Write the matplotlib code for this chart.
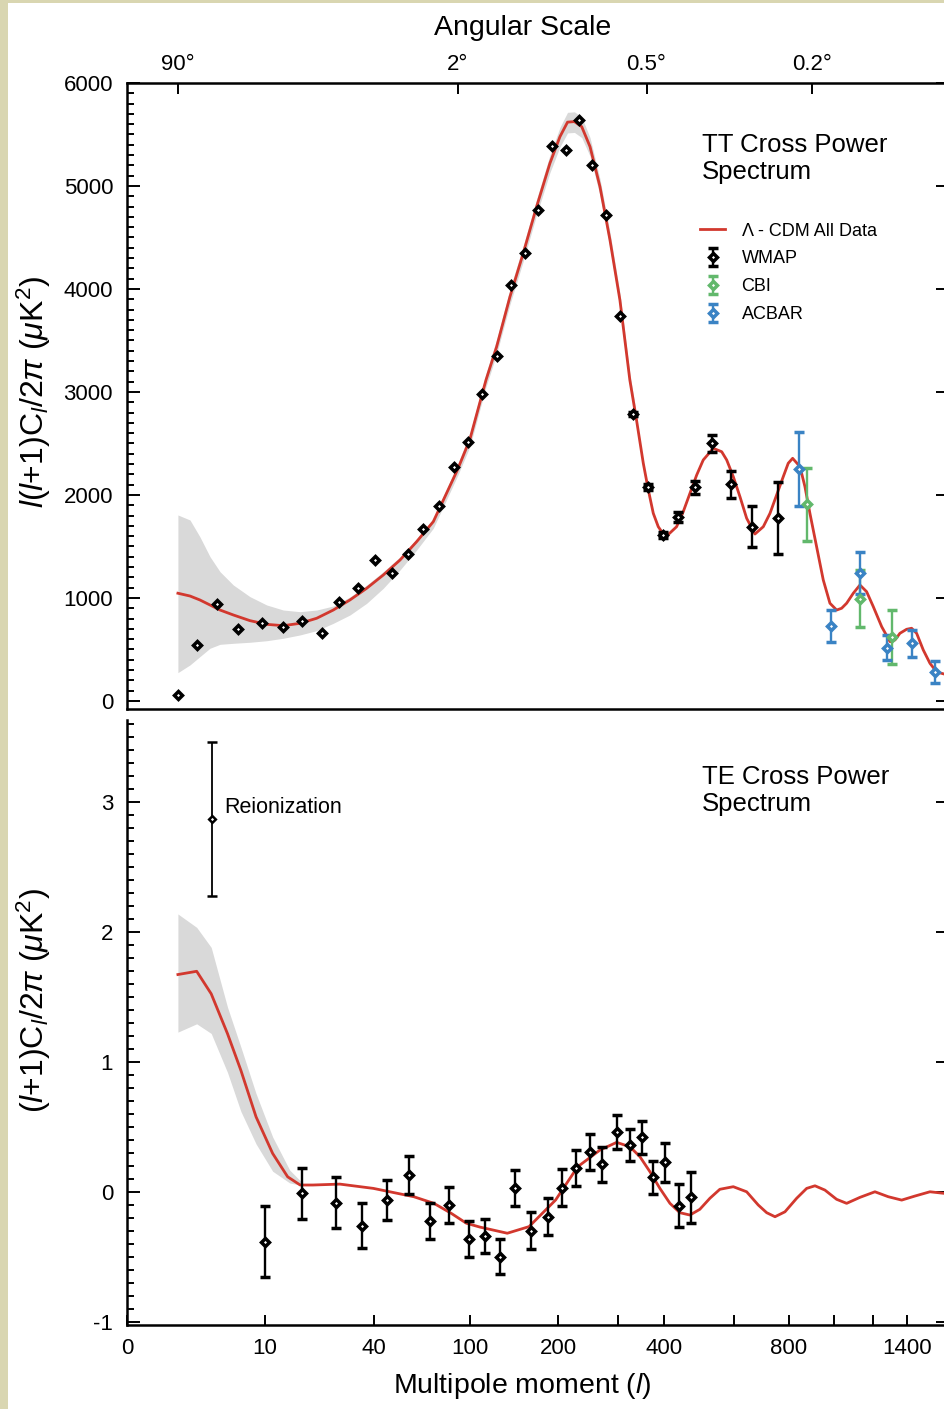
"""WMAP TT / TE cross power spectrum, two stacked panels on an l^(1/4) axis."""
import numpy as np
import matplotlib
matplotlib.use("Agg")
import matplotlib.pyplot as plt
from matplotlib.patches import Rectangle
from matplotlib.ticker import MultipleLocator, NullLocator, FixedLocator

OUT = "out.png"
NA = np.nan   # no visible error bar

# ---------------- TT panel ----------------
TT_WMAP_L = [2, 3, 4.5, 6.5, 9.5, 13, 17, 22, 27, 33.4, 40.4, 48.4, 56.9, 65.4,
             76.3, 87.1, 98.4, 110.7, 124.9, 140, 155.7, 172.2, 190.9, 210.6,
             230.7, 253.3, 278.1, 304.2, 331.3, 363.9, 397.4, 436.3, 481, 530,
             589, 661, 755]
TT_WMAP_V = [60, 545, 945, 696, 760, 721, 780, 657, 964, 1100, 1369, 1240, 1424,
             1670, 1896, 2272, 2515, 2981, 3350, 4042, 4350, 4770, 5391, 5350,
             5638, 5204, 4716, 3741, 2783, 2075, 1612, 1789, 2075, 2502, 2104,
             1692, 1780]
TT_WMAP_E = [NA, NA, NA, NA, NA, NA, NA, NA, NA, NA, NA, NA, NA, NA,
             NA, NA, NA, NA, NA, NA, NA, NA, NA, NA, NA, NA, NA, NA,
             20, 30, 30, 50, 65, 85, 130, 200, 350]

TT_CBI_L = [877, 1128, 1307]
TT_CBI_V = [1910, 993, 618]
TT_CBI_E = [355, 275, 263]

TT_ACBAR_L = [841, 986, 1130, 1277, 1428, 1580]
TT_ACBAR_V = [2250, 728, 1246, 517, 560, 279]
TT_ACBAR_E = [360, 155, 205, 123, 133, 108]

TT_MODEL_L = [2, 2.61, 3.2, 3.91, 4.72, 5.98, 7.89, 10.25, 13.07, 16.46,
              20.47, 25.14, 30.6, 36.9, 44.1, 52.4, 61.7, 72.2, 90, 100,
              114.5, 124.9, 138.9, 154, 170.4, 188, 202.2, 213.4, 224, 235.6,
              249.4, 266.7, 285, 304.1, 324.1, 338.4, 352.8, 364, 375.3, 386.9,
              398.9, 405.4, 432, 449.3, 467.2, 485.8, 504.4, 533.9, 559.6, 575.3,
              596.5, 618.6, 641.3, 670.4, 700.6, 725.6, 751, 777.1, 797, 815,
              845.8, 866.9, 888.6, 918.4, 948.8, 980, 1012, 1036.5, 1061.5,
              1095.3, 1130, 1165.6, 1201.9, 1249, 1296.8, 1325.9, 1355.7,
              1396.5, 1427.7, 1459.5, 1502.4, 1546.4, 1591.4, 1642.2, 1670]
TT_MODEL_V = [1046, 1019, 981, 932, 883, 835, 780, 744, 731, 754,
              803, 883, 981, 1094, 1223, 1369, 1547, 1741, 2250, 2540,
              3117, 3440, 3925, 4347, 4799, 5220, 5479, 5620, 5625, 5576,
              5382, 4993, 4476, 3893, 3117, 2720, 2308, 2049, 1822, 1692,
              1621, 1595, 1692, 1838, 2016, 2194, 2340, 2453, 2420, 2340,
              2178, 1983, 1774, 1621, 1692, 1822, 2000, 2178, 2308, 2356,
              2275, 2081, 1822, 1498, 1175, 949, 883, 900, 949,
              1046, 1126, 1061, 916, 721, 576, 592, 657,
              696, 706, 657, 495, 366, 282, 262, 255]

# cosmic-variance band, sampled at the first 36 model multipoles
TT_BAND_L = TT_MODEL_L[:36]
TT_BAND_HI = [1806, 1757, 1595, 1401, 1255, 1126, 1013, 932, 883, 867,
              883, 922, 1010, 1125, 1255, 1400, 1575, 1770, 2300, 2600,
              3180, 3510, 4000, 4420, 4870, 5300, 5570, 5715, 5720, 5670,
              5470, 5070, 4550, 3960, 3180, 2780]
TT_BAND_LO = [275, 350, 430, 512, 550, 560, 570, 585, 609, 641,
              683, 754, 835, 948, 1094, 1272, 1466, 1677, 2190, 2470,
              3050, 3370, 3850, 4270, 4720, 5130, 5380, 5515, 5520, 5470,
              5290, 4910, 4400, 3820, 3050, 2670]

# ---------------- TE panel ----------------
TE_WMAP_L = [10.0, 17.0, 26.1, 35.1, 45.8, 57.2, 70.2, 83.6, 99.0, 113.4, 128.5,
             144.6, 163.6, 185, 205.4, 226.4, 249, 270, 298, 323.5, 349, 375,
             402, 437, 469]
TE_WMAP_V = [-0.381, -0.010, -0.082, -0.259, -0.061, 0.130, -0.223, -0.102,
             -0.363, -0.338, -0.496, 0.028, -0.297, -0.190, 0.033, 0.187, 0.309,
             0.215, 0.463, 0.361, 0.420, 0.113, 0.228, -0.105, -0.041]
TE_WMAP_E = [0.27, 0.196, 0.196, 0.173, 0.156, 0.147, 0.141, 0.138, 0.138, 0.134,
             0.137, 0.138, 0.14, 0.143, 0.143, 0.138, 0.141, 0.134, 0.130, 0.122,
             0.124, 0.128, 0.147, 0.166, 0.194]

REION_L, REION_V, REION_E = 4.04, 2.873, 0.592

TE_MODEL_L = [2, 3, 4, 5.4, 6.8, 8.7, 11.2, 13.9, 16.5, 19.5,
              27.2, 39.7, 47.2, 60, 72.6, 85, 97, 109, 136, 161,
              196, 229, 266.7, 297.7, 324.4, 345.4, 367.7, 390.8, 415.2, 440.5,
              467.1, 494.6, 523.8, 553.8, 596.5, 641.3, 682.3, 713.2, 744.7,
              783.9, 831.7, 874.4, 911, 956.5, 1011.9, 1061.5, 1130, 1211,
              1286.6, 1366.4, 1448.3, 1546.4, 1642, 1670]
TE_MODEL_V = [1.673, 1.698, 1.525, 1.218, 0.936, 0.578, 0.297, 0.117, 0.054,
              0.054, 0.061, 0.028, 0.002, -0.036, -0.087, -0.164, -0.24, -0.27,
              -0.317, -0.266, -0.061, 0.194, 0.323, 0.382, 0.348, 0.272, 0.156,
              0.028, -0.087, -0.159, -0.177, -0.133, -0.048, 0.021, 0.041,
              0.002, -0.100, -0.159, -0.190, -0.152, -0.048, 0.028, 0.048,
              0.015, -0.056, -0.087, -0.041, 0.002, -0.036, -0.062, -0.031,
              0.002, -0.010, -0.010]

TE_BAND_L = [2, 3, 4, 5.4, 6.8, 8.7, 11.2, 14.3, 17]
TE_BAND_HI = [2.139, 2.036, 1.882, 1.422, 1.115, 0.757, 0.424, 0.169, 0.07]
TE_BAND_LO = [1.230, 1.294, 1.22, 0.92, 0.62, 0.37, 0.16, 0.07, 0.05]

# ---------------- axes ----------------
L_LIM = (0.51, 1670)
L_TICKS = [0.51, 10, 40, 100, 200, 400, 800, 1400]
L_TICKLABELS = ["0", "10", "40", "100", "200", "400", "800", "1400"]
L_MINOR = [300, 600, 1000, 1200]
ANGLES = [90, 2, 0.5, 0.2]
ANGLE_LABELS = ["90°", "2°", "0.5°", "0.2°"]

RED = "#d2382e"
BAND = "#d9d9d9"
GREEN = "#62b86c"
BLUE = "#3a83c4"
BEIGE = "#d9d6b1"

TICK_FS = 16


def fwd(l):
    l = np.asarray(l, dtype=float)
    return np.sign(l) * np.abs(l) ** 0.25


def inv(u):
    u = np.asarray(u, dtype=float)
    return np.sign(u) * np.abs(u) ** 4


def points(ax, l, v, e, color):
    return ax.errorbar(l, v, yerr=e, fmt="D", ms=4.2, mfc="white", mec=color,
                       mew=2.5, color=color, ecolor=color, elinewidth=1.7,
                       capsize=3.6, capthick=1.4, zorder=4)


def style_axes(ax):
    ax.set_xscale("function", functions=(fwd, inv))
    ax.set_xlim(*L_LIM)
    for s in ax.spines.values():
        s.set_linewidth(1.8)
    ax.tick_params(which="both", direction="in", width=1.4, labelsize=TICK_FS,
                   colors="black")
    ax.tick_params(axis="y", which="major", left=True, right=True, length=9,
                   pad=10)
    ax.tick_params(axis="y", which="minor", left=True, right=False, length=5)


def main():
    plt.rcParams["font.family"] = ["Liberation Sans", "DejaVu Sans"]
    plt.rcParams["mathtext.fontset"] = "custom"
    plt.rcParams["mathtext.rm"] = "Liberation Sans"
    plt.rcParams["mathtext.it"] = "Liberation Sans:italic"
    plt.rcParams["mathtext.bf"] = "Liberation Sans:bold"
    plt.rcParams["axes.unicode_minus"] = False

    fig = plt.figure(figsize=(9.44, 14.09), dpi=100, facecolor=BEIGE)
    fig.patches.append(Rectangle((8 / 944, 0), 1, 1 - 3 / 1409,
                                 transform=fig.transFigure, facecolor="white",
                                 edgecolor="none", zorder=-1))

    ax1 = fig.add_axes([0.1345, 0.4968, 0.8697, 0.4443])
    ax2 = fig.add_axes([0.1345, 0.0596, 0.8697, 0.4294])

    # ---- TT ----
    style_axes(ax1)
    ax1.set_ylim(-78, 6000)
    ax1.yaxis.set_major_locator(MultipleLocator(1000))
    ax1.yaxis.set_minor_locator(MultipleLocator(100))
    ax1.fill_between(TT_BAND_L, TT_BAND_LO, TT_BAND_HI, color=BAND, lw=0,
                     zorder=1)
    model, = ax1.plot(TT_MODEL_L, TT_MODEL_V, color=RED, lw=2.0, zorder=3)
    h_w = points(ax1, TT_WMAP_L, TT_WMAP_V, TT_WMAP_E, "black")
    h_c = points(ax1, TT_CBI_L, TT_CBI_V, TT_CBI_E, GREEN)
    h_a = points(ax1, TT_ACBAR_L, TT_ACBAR_V, TT_ACBAR_E, BLUE)

    ax1.xaxis.set_major_locator(FixedLocator([180 / a for a in ANGLES]))
    ax1.xaxis.set_minor_locator(NullLocator())
    ax1.set_xticklabels(ANGLE_LABELS)
    ax1.tick_params(axis="x", bottom=False, top=True, labelbottom=False,
                    labeltop=True, length=8, pad=6)
    ax1.set_xlabel("Angular Scale", fontsize=20.5)
    ax1.xaxis.set_label_position("top")
    ax1.xaxis.set_label_coords(0.482, 1.077)
    ax1.set_ylabel(r"$l(l$+1)C$_l$/2$\pi$ ($\mu$K$^2$)", fontsize=23)
    ax1.yaxis.set_label_coords(-0.090, 0.506)

    ax1.text(0.700, 0.920, "TT Cross Power\nSpectrum", transform=ax1.transAxes,
             ha="left", va="top", fontsize=18.5, linespacing=1.15)
    ax1.legend([model, h_w, h_c, h_a],
               ["Λ - CDM All Data", "WMAP", "CBI", "ACBAR"],
               loc="upper left", bbox_to_anchor=(0.698, 0.777), frameon=False,
               fontsize=13, handlelength=1.4, handletextpad=0.9,
               labelspacing=0.6, borderaxespad=0, borderpad=0)

    # ---- TE ----
    style_axes(ax2)
    ax2.spines["top"].set_visible(False)
    ax2.set_ylim(-1.023, 3.631)
    ax2.yaxis.set_major_locator(MultipleLocator(1))
    ax2.yaxis.set_minor_locator(MultipleLocator(0.1))
    ax2.fill_between(TE_BAND_L, TE_BAND_LO, TE_BAND_HI, color=BAND, lw=0,
                     zorder=1)
    ax2.plot(TE_MODEL_L, TE_MODEL_V, color=RED, lw=2.0, zorder=3)
    points(ax2, TE_WMAP_L, TE_WMAP_V, TE_WMAP_E, "black")
    ax2.errorbar([REION_L], [REION_V], yerr=[REION_E], fmt="D", ms=3.4,
                 mfc="white", mec="black", mew=1.8, color="black",
                 elinewidth=1.3, capsize=3.6, capthick=1.0, zorder=4)
    ax2.annotate("Reionization", xy=(REION_L, REION_V), xytext=(9, 8),
                 textcoords="offset points", ha="left", va="center",
                 fontsize=15.5)

    ax2.xaxis.set_major_locator(FixedLocator(L_TICKS))
    ax2.xaxis.set_minor_locator(FixedLocator(L_MINOR))
    ax2.set_xticklabels(L_TICKLABELS)
    ax2.tick_params(axis="x", which="both", top=False, bottom=True, length=7.5,
                    pad=9)
    ax2.set_xlabel(r"Multipole moment ($l$)", fontsize=20.5)
    ax2.xaxis.set_label_coords(0.482, -0.076)
    ax2.set_ylabel(r"($l$+1)C$_l$/2$\pi$ ($\mu$K$^2$)", fontsize=23)
    ax2.yaxis.set_label_coords(-0.090, 0.536)

    ax2.text(0.700, 0.926, "TE Cross Power\nSpectrum", transform=ax2.transAxes,
             ha="left", va="top", fontsize=18.5, linespacing=1.15)

    fig.savefig(OUT, dpi=100, facecolor=BEIGE)


if __name__ == "__main__":
    main()
